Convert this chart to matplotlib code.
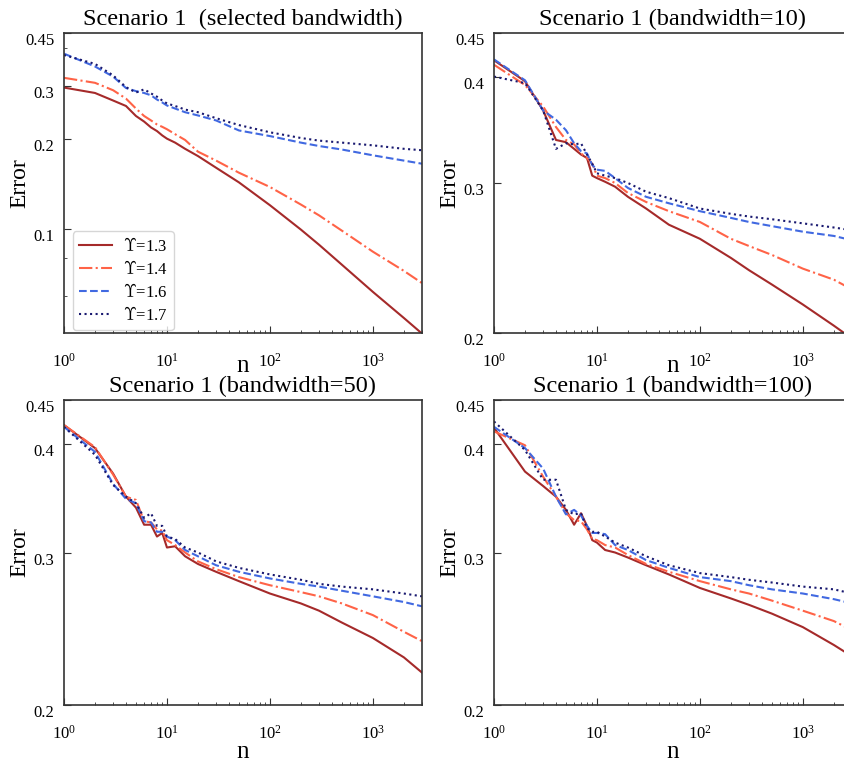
import matplotlib
matplotlib.use("Agg")
import matplotlib.pyplot as plt
from matplotlib.ticker import FixedLocator, FixedFormatter, NullFormatter

plt.rcParams['font.family'] = 'Liberation Serif'
plt.rcParams['ytick.alignment'] = 'top'

# sample sizes where the error was recorded
n = [1, 2, 3, 4, 5, 6, 7, 8, 9, 10, 12, 15, 20, 30, 50, 100, 200, 300, 500, 1000, 2000, 3000]
gammas = ['1.3', '1.4', '1.6', '1.7']

# selected bandwidth
sel_13 = [.296, .284, .268, .257, .238, .228, .218, .212, .205, .200, .194, .185, .175, .160, .143,
          .120, .0995, .0886, .076, .0617, .0505, .0448]
sel_14 = [.319, .307, .290, .272, .252, .238, .230, .223, .219, .215, .207, .198, .181, .169, .154,
          .138, .1206, .111, .0987, .084, .0725, .066]
sel_16 = [.384, .348, .322, .295, .288, .284, .279, .270, .264, .258, .252, .245, .239, .230, .213,
          .204, .194, .189, .184, .176, .169, .165]
sel_17 = [.380, .355, .325, .297, .285, .292, .283, .276, .268, .262, .257, .250, .245, .234, .222,
          .210, .201, .197, .194, .190, .185, .183]

# bandwidth = 10
b10_13 = [.418, .395, .365, .337, .335, .329, .324, .321, .306, .304, .301, .297, .289, .280, .268,
          .258, .245, .237, .228, .216, .204, .197]
b10_14 = [.413, .391, .369, .349, .337, .333, .325, .321, .316, .306, .304, .300, .292, .285, .278,
          .270, .258, .253, .247, .238, .231, .225]
b10_16 = [.419, .396, .365, .356, .346, .334, .327, .325, .315, .311, .310, .304, .296, .289, .284,
          .278, .273, .270, .267, .263, .260, .257]
b10_17 = [.400, .393, .365, .329, .334, .333, .334, .324, .316, .308, .306, .304, .300, .293, .288,
          .280, .276, .274, .272, .269, .266, .264]

# bandwidth = 50
b50_13 = [.421, .396, .370, .348, .338, .323, .323, .313, .316, .304, .305, .297, .291, .285, .278,
          .269, .262, .257, .249, .239, .227, .218]
b50_14 = [.421, .397, .369, .348, .345, .326, .325, .319, .318, .310, .306, .300, .293, .287, .281,
          .275, .270, .267, .262, .254, .243, .237]
b50_16 = [.419, .392, .360, .346, .342, .326, .325, .317, .317, .313, .310, .302, .297, .290, .285,
          .280, .276, .274, .271, .267, .263, .260]
b50_17 = [.419, .389, .359, .348, .342, .329, .333, .322, .322, .313, .311, .304, .300, .293, .288,
          .283, .279, .276, .274, .272, .269, .267]

# bandwidth = 100
b100_13 = [.418, .372, .358, .348, .336, .323, .333, .322, .310, .308, .302, .300, .296, .290, .283,
           .273, .2655, .261, .255, .246, .2346, .2276]
b100_14 = [.414, .399, .367, .348, .333, .327, .326, .319, .311, .310, .306, .304, .298, .291, .285,
           .278, .272, .269, .264, .257, .250, .244]
b100_16 = [.419, .396, .375, .348, .332, .336, .331, .322, .316, .316, .315, .306, .302, .294, .288,
           .281, .278, .275, .272, .269, .265, .262]
b100_17 = [.425, .394, .364, .364, .336, .332, .333, .320, .317, .317, .313, .308, .304, .297, .290,
           .284, .281, .279, .277, .274, .272, .269]

panels = [
    ("Scenario 1  (selected bandwidth)", [sel_13, sel_14, sel_16, sel_17]),
    ("Scenario 1 (bandwidth=10)", [b10_13, b10_14, b10_16, b10_17]),
    ("Scenario 1 (bandwidth=50)", [b50_13, b50_14, b50_16, b50_17]),
    ("Scenario 1 (bandwidth=100)", [b100_13, b100_14, b100_16, b100_17]),
]

colors = ['#a52a2a', 'tomato', 'royalblue', 'midnightblue']
styles = ['-', '-.', '--', ':']

W, H = 845, 763
fig = plt.figure(figsize=(W / 100, H / 100), dpi=100)
rects = [(64, 33, 300), (494, 33, 300), (64, 400, 305), (494, 400, 305)]

for i, ((title, series), (left, top, h)) in enumerate(zip(panels, rects)):
    ax = fig.add_axes([left / W, 1 - (top + h) / H, 358 / W, h / H])
    for vals, g, c, ls in zip(series, gammas, colors, styles):
        ax.plot(n, vals, color=c, ls=ls, lw=1.5, label=r'$\Upsilon$=' + g)
    ax.set_xscale('log')
    ax.set_yscale('log')
    ax.set_xlim(1, 3000)
    if i == 0:
        ax.set_ylim(0.045, 0.45)
        major = [0.1, 0.2, 0.3, 0.45]
        minor = [0.06, 0.08, 0.4]
    else:
        ax.set_ylim(0.2, 0.45)
        major = [0.2, 0.3, 0.4, 0.45]
        minor = []
    ax.yaxis.set_major_locator(FixedLocator(major))
    ax.yaxis.set_major_formatter(FixedFormatter([f'{v:g}' for v in major]))
    ax.yaxis.set_minor_locator(FixedLocator(minor))
    ax.yaxis.set_minor_formatter(NullFormatter())
    ax.tick_params(which='both', direction='in', labelsize=12, color='#333333')
    ax.tick_params(axis='x', which='major', length=5, pad=14)
    ax.tick_params(axis='y', which='major', length=5, pad=7)
    ax.tick_params(which='minor', length=2.5)
    for sp in ax.spines.values():
        sp.set_color('#333333')
        sp.set_linewidth(1.2)

    ax.set_title(title, fontsize=17.6, pad=6)
    ax.set_ylabel('Error', fontsize=17, va='center', ha='center')
    ax.yaxis.set_label_coords(-44 / 358, 0.5)
    ax.set_xlabel('n', fontsize=18, va='baseline')
    ax.xaxis.set_label_coords(0.5, -39 / 300 if i < 2 else -53 / 305)

    if i == 0:
        leg = ax.legend(loc='lower left', bbox_to_anchor=(9 / 358, 3 / 300),
                        borderaxespad=0, fontsize=12, handlelength=2.0,
                        handletextpad=0.65, labelspacing=0.3, borderpad=0.35)
        for t in leg.get_texts():
            t.set_math_fontfamily('cm')

fig.savefig('out.png', dpi=100)
